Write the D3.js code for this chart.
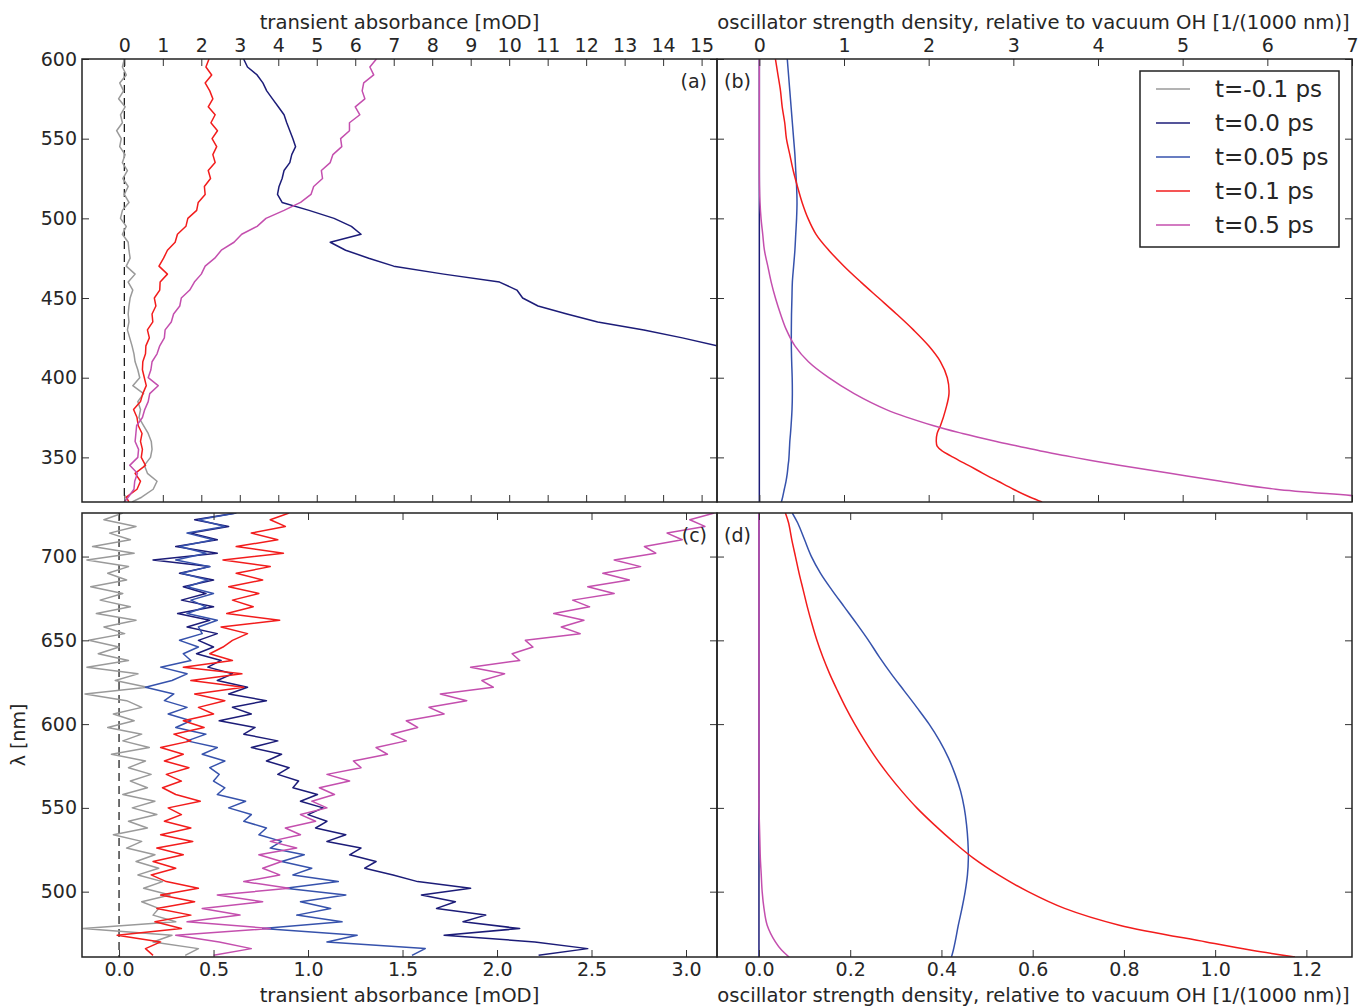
<!DOCTYPE html>
<html>
<head>
<meta charset="utf-8">
<script src="https://cdn.jsdelivr.net/npm/d3@7"></script>
<style>
  body { margin: 0; background: #fff; }
  text { font-family: "DejaVu Sans", sans-serif; fill: #262626; }
</style>
</head>
<body>
<svg width="1358" height="1007"></svg>
<script>
// --------------- //
// DATA //
// --------------- //
let seriesNames = ["t=-0.1 ps", "t=0.0 ps", "t=0.05 ps", "t=0.1 ps", "t=0.5 ps"];
let seriesColors = ["#9a9a9a", "#1c1c78", "#3652ac", "#f21c1c", "#c44fae"];

// (a) transient absorbance, 320-600 nm
let lamA = [600, 595, 590, 585, 580, 575, 570, 565, 560, 555, 550, 545, 540, 535, 530, 525, 520, 515, 510, 505,
    500, 495, 490, 485, 480, 475, 470, 465, 460, 455, 450, 445, 440, 435, 430, 425, 420, 415, 410, 405,
    400, 395, 390, 385, 380, 375, 370, 365, 360, 355, 350, 345, 340, 335, 330, 325, 322];
let greyA = [0.0, -0.05, 0.05, -0.12, -0.02, -0.15, 0.02, -0.1, -0.05, -0.2, -0.08, -0.12, 0.02, -0.05, 0.08, -0.04, 0.1, 0.0, 0.12, -0.05,
    -0.1, 0.05, -0.05, 0.1, 0.12, 0.15, 0.05, 0.28, 0.1, 0.22, 0.15, 0.12, 0.1, 0.12, 0.08, 0.14, 0.2, 0.25, 0.28, 0.35,
    0.4, 0.22, 0.5, 0.35, 0.42, 0.38, 0.5, 0.62, 0.7, 0.72, 0.68, 0.52, 0.6, 0.85, 0.75, 0.45, 0.2];
let navyA = [3.1, 3.2, 3.45, 3.6, 3.7, 3.85, 4.0, 4.15, 4.22, 4.3, 4.38, 4.45, 4.35, 4.3, 4.15, 4.1, 4.02, 3.98, 4.1, 4.8,
    5.45, 5.9, 6.15, 5.35, 5.75, 6.35, 7.0, 8.3, 9.75, 10.2, 10.35, 10.75, 11.5, 12.3, 13.5, 14.5, 15.4, 16.2, null, null,
    null, null, null, null, null, null, null, null, null, null, null, null, null, null, null, null, null];
let redA = [2.2, 2.12, 2.27, 2.1, 2.22, 2.3, 2.18, 2.36, 2.25, 2.42, 2.28, 2.4, 2.3, 2.36, 2.18, 2.24, 2.08, 2.1, 1.92, 1.88,
    1.65, 1.6, 1.38, 1.32, 1.12, 1.02, 0.9, 1.12, 0.93, 0.92, 0.78, 0.82, 0.72, 0.74, 0.6, 0.65, 0.56, 0.55, 0.48, 0.47,
    0.52, 0.57, 0.48, 0.42, 0.24, 0.33, 0.36, 0.46, 0.42, 0.47, 0.44, 0.55, 0.28, 0.42, 0.33, 0.05, 0.12];
let magA = [6.55, 6.38, 6.48, 6.22, 6.18, 6.25, 6.0, 6.12, 5.85, 5.85, 5.62, 5.65, 5.42, 5.35, 5.12, 5.15, 4.92, 4.85, 4.58, 4.15,
    3.68, 3.45, 3.05, 2.85, 2.52, 2.35, 2.1, 2.0, 1.82, 1.7, 1.48, 1.44, 1.28, 1.22, 1.06, 1.04, 0.92, 0.85, 0.72, 0.69,
    0.62, 0.88, 0.66, 0.62, 0.53, 0.47, 0.32, 0.3, 0.28, 0.37, 0.35, 0.14, 0.34, 0.27, 0.25, 0.1, 0.0];

// (b) oscillator strength density, 320-600 nm
let lamB = [600, 590, 580, 570, 560, 550, 540, 530, 520, 510, 500, 490, 480, 470, 460, 450, 440, 430, 420, 410,
    400, 390, 380, 370, 365, 360, 357, 354, 351, 348, 345, 340, 335, 330, 325, 322];
let navyB = [0, 0, 0, 0, 0, 0, 0, 0, 0, 0, 0, 0, 0, 0, 0, 0, 0, 0, 0, 0,
    0, 0, 0, 0, 0, 0, 0, 0, 0, 0, 0, 0, 0, 0, 0, 0];
let blueB = [0.33, 0.345, 0.36, 0.375, 0.39, 0.405, 0.42, 0.43, 0.44, 0.445, 0.44, 0.43, 0.42, 0.405, 0.39, 0.385, 0.38, 0.378, 0.378, 0.382,
    0.388, 0.39, 0.386, 0.375, 0.368, 0.36, 0.357, 0.354, 0.351, 0.347, 0.34, 0.33, 0.315, 0.295, 0.275, 0.26];
let redB = [0.19, 0.22, 0.25, 0.27, 0.3, 0.32, 0.36, 0.4, 0.45, 0.505, 0.575, 0.67, 0.82, 1.0, 1.2, 1.41, 1.62, 1.82, 2.0, 2.14,
    2.22, 2.24, 2.2, 2.14, 2.1, 2.09, 2.1, 2.16, 2.26, 2.36, 2.47, 2.64, 2.82, 3.0, 3.2, 3.34];
let magB = [0, 0, 0, 0, 0, 0, 0, 0, 0.002, 0.008, 0.02, 0.04, 0.06, 0.1, 0.14, 0.19, 0.25, 0.32, 0.42, 0.58,
    0.82, 1.12, 1.5, 2.05, 2.4, 2.8, 3.06, 3.32, 3.62, 3.92, 4.25, 4.85, 5.45, 6.1, 7.2, 7.6];

// (c) transient absorbance, 460-730 nm
let lamC = [726, 722, 718, 714, 710, 706, 702, 698, 694, 690, 686, 682, 678, 674, 670, 666, 662, 658, 654, 650,
    646, 642, 638, 634, 630, 626, 622, 618, 614, 610, 606, 602, 598, 594, 590, 586, 582, 578, 574, 570,
    566, 562, 558, 554, 550, 546, 542, 538, 534, 530, 526, 522, 518, 514, 510, 506, 502, 498, 494, 490,
    486, 482, 478, 474, 470, 466, 462];
let greyC = [0.02, -0.08, 0.09, -0.05, 0.06, -0.14, 0.08, -0.17, 0.05, -0.06, 0.04, -0.15, 0.02, -0.1, 0.06, -0.12, 0.09, -0.08, 0.03, -0.16,
    0.0, -0.11, 0.05, -0.17, 0.1, -0.02, 0.15, -0.18, 0.04, 0.12, -0.03, 0.08, -0.06, 0.12, 0.02, 0.16, -0.04, 0.14, 0.05, 0.17,
    0.06, 0.15, 0.02, 0.19, 0.07, 0.2, 0.05, 0.15, -0.03, 0.12, 0.04, 0.19, 0.09, 0.21, 0.1, 0.23, 0.13, 0.27, 0.12, 0.21,
    0.18, 0.3, -0.19, 0.28, 0.18, 0.42, 0.35];
let navyC = [0.62, 0.4, 0.58, 0.38, 0.52, 0.3, 0.52, 0.18, 0.48, 0.32, 0.5, 0.34, 0.46, 0.33, 0.5, 0.31, 0.48, 0.36, 0.52, 0.42,
    0.5, 0.41, 0.54, 0.47, 0.6, 0.52, 0.68, 0.58, 0.78, 0.6, 0.7, 0.53, 0.72, 0.66, 0.84, 0.7, 0.86, 0.78, 0.9, 0.84,
    0.95, 0.92, 1.05, 0.96, 1.08, 1.0, 1.1, 1.04, 1.2, 1.1, 1.28, 1.22, 1.36, 1.3, 1.45, 1.58, 1.86, 1.6, 1.78, 1.68,
    1.94, 1.82, 2.12, 1.72, 2.2, 2.48, 2.22];
let blueC = [0.62, 0.42, 0.56, 0.36, 0.5, 0.32, 0.46, 0.3, 0.48, 0.33, 0.47, 0.36, 0.5, 0.38, 0.46, 0.36, 0.52, 0.42, 0.44, 0.32,
    0.42, 0.34, 0.38, 0.22, 0.36, 0.28, 0.14, 0.29, 0.24, 0.36, 0.26, 0.38, 0.3, 0.46, 0.36, 0.52, 0.44, 0.56, 0.48, 0.53,
    0.5, 0.56, 0.52, 0.67, 0.58, 0.7, 0.66, 0.78, 0.74, 0.86, 0.8, 0.98, 0.86, 1.02, 0.92, 1.16, 0.88, 1.2, 0.96, 1.12,
    0.94, 1.18, 0.76, 1.26, 1.1, 1.62, 1.55];
let redC = [0.9, 0.8, 0.88, 0.7, 0.84, 0.62, 0.87, 0.55, 0.8, 0.62, 0.76, 0.58, 0.74, 0.6, 0.71, 0.57, 0.85, 0.54, 0.68, 0.6,
    0.55, 0.48, 0.6, 0.34, 0.65, 0.38, 0.66, 0.4, 0.56, 0.42, 0.5, 0.34, 0.45, 0.29, 0.38, 0.22, 0.34, 0.24, 0.37, 0.25,
    0.33, 0.23, 0.3, 0.43, 0.26, 0.33, 0.24, 0.38, 0.22, 0.39, 0.2, 0.34, 0.18, 0.3, 0.17, 0.25, 0.42, 0.22, 0.4, 0.2,
    0.38, 0.19, 0.33, -0.01, 0.22, 0.14, 0.18];
let magC = [3.15, 3.02, 3.1, 2.9, 2.98, 2.78, 2.84, 2.62, 2.76, 2.56, 2.7, 2.48, 2.62, 2.4, 2.49, 2.3, 2.46, 2.34, 2.44, 2.15,
    2.19, 2.08, 2.12, 1.86, 2.04, 1.92, 1.98, 1.7, 1.84, 1.64, 1.72, 1.52, 1.58, 1.44, 1.52, 1.36, 1.42, 1.24, 1.28, 1.1,
    1.22, 1.06, 1.14, 1.02, 1.1, 0.96, 1.04, 0.88, 0.96, 0.8, 0.94, 0.74, 0.86, 0.76, 0.85, 0.66, 0.9, 0.52, 0.76, 0.44,
    0.64, 0.36, 0.8, 0.3, 0.53, 0.7, 0.5];

// (d) oscillator strength density, 460-730 nm
let lamD = [726, 720, 710, 700, 690, 680, 670, 660, 650, 640, 630, 620, 610, 600, 590, 580, 570, 560, 550, 540,
    530, 520, 510, 500, 490, 480, 470, 465, 461];
let navyD = [0, 0, 0, 0, 0, 0, 0, 0, 0, 0, 0, 0, 0, 0, 0, 0, 0, 0, 0, 0,
    0, 0, 0, 0, 0, 0, 0, 0, 0];
let blueD = [0.073, 0.085, 0.1, 0.115, 0.135, 0.16, 0.187, 0.214, 0.24, 0.264, 0.29, 0.318, 0.346, 0.373, 0.396, 0.415, 0.43, 0.442, 0.45, 0.455,
    0.458, 0.459, 0.457, 0.452, 0.445, 0.437, 0.43, 0.426, 0.422];
let redD = [0.058, 0.065, 0.072, 0.08, 0.088, 0.097, 0.106, 0.116, 0.127, 0.14, 0.155, 0.172, 0.19, 0.21, 0.232, 0.256, 0.283, 0.313, 0.346, 0.384,
    0.425, 0.47, 0.525, 0.59, 0.67, 0.79, 0.98, 1.08, 1.175];
let magD = [0, 0, 0, 0, 0, 0, 0, 0, 0, 0, 0, 0, 0, 0, 0, 0, 0, 0, 0, 0.001,
    0.002, 0.003, 0.005, 0.007, 0.011, 0.018, 0.036, 0.05, 0.066];

// tick values
let ticksA = d3.range(0, 16);
let ticksB = d3.range(0, 8);
let ticksC = [0, 0.5, 1.0, 1.5, 2.0, 2.5, 3.0];
let ticksD = [0, 0.2, 0.4, 0.6, 0.8, 1.0, 1.2];
let ticksLamTop = [350, 400, 450, 500, 550, 600];
let ticksLamBot = [500, 550, 600, 650, 700];

// --------------- //
// SCALES //
// --------------- //
let svg = d3.select("svg");
let left = 82, mid = 717, right = 1352;
let topA = 59, botA = 502, topC = 513, botC = 957;

let xA = d3.scaleLinear().domain([-1.1, 15.4]).range([left, mid]);
let xB = d3.scaleLinear().domain([-0.5, 7]).range([mid, right]);
let xC = d3.scaleLinear().domain([-0.196, 3.164]).range([left, mid]);
let xD = d3.scaleLinear().domain([-0.092, 1.3]).range([mid, right]);
let yTop = d3.scaleLinear().domain([322, 600]).range([botA, topA]);
let yBot = d3.scaleLinear().domain([461, 726]).range([botC, topC]);

let panels = [
    { id: "a", x: xA, y: yTop, lam: lamA, series: [greyA, navyA, null, redA, magA], ticks: ticksA, yticks: ticksLamTop, fmt: d3.format("d") },
    { id: "b", x: xB, y: yTop, lam: lamB, series: [null, navyB, blueB, redB, magB], ticks: ticksB, yticks: ticksLamTop, fmt: d3.format("d") },
    { id: "c", x: xC, y: yBot, lam: lamC, series: [greyC, navyC, blueC, redC, magC], ticks: ticksC, yticks: ticksLamBot, fmt: d3.format(".1f") },
    { id: "d", x: xD, y: yBot, lam: lamD, series: [null, navyD, blueD, redD, magD], ticks: ticksD, yticks: ticksLamBot, fmt: d3.format(".1f") }
];

let styleAxis = (g, labels) => {
    g.attr("font-size", 19).attr("font-family", "DejaVu Sans, sans-serif");
    g.select(".domain").remove();
    g.selectAll(".tick line").attr("stroke", "#333").attr("stroke-width", 1);
    g.selectAll(".tick text").style("fill", "#262626");
    if (!labels) g.selectAll(".tick text").remove();
};

// --------------- //
// PANELS //
// --------------- //
panels.forEach((p) => {
    let x0 = p.x.range()[0], x1 = p.x.range()[1];
    let y0 = p.y.range()[1], y1 = p.y.range()[0];
    let isTop = p.y === yTop;
    let isLeft = x0 === left;

    svg.append("clipPath").attr("id", "clip-" + p.id)
        .append("rect").attr("x", x0).attr("y", y0).attr("width", x1 - x0).attr("height", y1 - y0);

    let g = svg.append("g").attr("clip-path", "url(#clip-" + p.id + ")");

    // zero line in transient absorbance panels
    if (isLeft) {
        g.append("line")
            .attr("x1", p.x(0)).attr("x2", p.x(0))
            .attr("y1", y0).attr("y2", y1)
            .attr("stroke", "#111")
            .attr("stroke-width", 1.2)
            .attr("stroke-dasharray", "8,5");
    }

    let curve = isLeft ? d3.curveLinear : d3.curveCatmullRom.alpha(0.5);
    p.series.forEach((vals, i) => {
        if (!vals) return;
        let pts = p.lam.map((l, j) => [vals[j], l]);
        let line = d3.line()
            .defined((d) => d[0] !== null)
            .x((d) => p.x(d[0]))
            .y((d) => p.y(d[1]))
            .curve(curve);
        g.append("path")
            .datum(pts)
            .attr("d", line)
            .attr("fill", "none")
            .attr("stroke", seriesColors[i])
            .attr("stroke-width", 1.5)
            .attr("stroke-linejoin", "round");
    });

    // axes, ticks pointing inward on all sides
    svg.append("g").attr("transform", "translate(0," + y0 + ")")
        .call(d3.axisTop(p.x).tickValues(p.ticks).tickFormat(p.fmt).tickSize(-7).tickPadding(7))
        .call((a) => styleAxis(a, isTop));
    svg.append("g").attr("transform", "translate(0," + y1 + ")")
        .call(d3.axisBottom(p.x).tickValues(p.ticks).tickFormat(p.fmt).tickSize(-7).tickPadding(6))
        .call((a) => styleAxis(a, !isTop));
    svg.append("g").attr("transform", "translate(" + x0 + ",0)")
        .call(d3.axisLeft(p.y).tickValues(p.yticks).tickSize(-7).tickPadding(5))
        .call((a) => styleAxis(a, isLeft));
    svg.append("g").attr("transform", "translate(" + x1 + ",0)")
        .call(d3.axisRight(p.y).tickValues(p.yticks).tickSize(-7))
        .call((a) => styleAxis(a, false));

    svg.append("rect")
        .attr("x", x0).attr("y", y0)
        .attr("width", x1 - x0).attr("height", y1 - y0)
        .attr("fill", "none")
        .attr("stroke", "#222")
        .attr("stroke-width", 1.5);

    // panel label
    svg.append("text")
        .attr("x", isLeft ? x1 - 10 : x0 + 7)
        .attr("y", y0 + 29)
        .attr("text-anchor", isLeft ? "end" : "start")
        .style("font-size", "19px")
        .text("(" + p.id + ")");
});

// --------------- //
// TITLES //
// --------------- //
let absTitle = "transient absorbance [mOD]";
let oscTitle = "oscillator strength density, relative to vacuum OH [1/(1000 nm)]";
[[absTitle, (left + mid) / 2, 29], [oscTitle, (mid + right) / 2 - 1, 29],
 [absTitle, (left + mid) / 2, 1002], [oscTitle, (mid + right) / 2 - 1, 1002]].forEach((t) => {
    svg.append("text")
        .attr("x", t[1]).attr("y", t[2])
        .attr("text-anchor", "middle")
        .style("font-size", "19.6px")
        .text(t[0]);
});

svg.append("text")
    .attr("transform", "translate(25," + ((topC + botC) / 2) + ") rotate(-90)")
    .attr("text-anchor", "middle")
    .style("font-size", "19px")
    .text("λ [nm]");

// --------------- //
// LEGEND //
// --------------- //
let legend = svg.append("g").attr("transform", "translate(1140,71)");
legend.append("rect")
    .attr("width", 199).attr("height", 176)
    .attr("fill", "#fff")
    .attr("stroke", "#222")
    .attr("stroke-width", 1.5);
seriesNames.forEach((name, i) => {
    let yy = 18 + i * 34;
    legend.append("line")
        .attr("x1", 16).attr("x2", 50)
        .attr("y1", yy).attr("y2", yy)
        .attr("stroke", seriesColors[i])
        .attr("stroke-width", 1.5);
    legend.append("text")
        .attr("x", 75).attr("y", yy + 8)
        .style("font-size", "23px")
        .text(name);
});
</script>
</body>
</html>
